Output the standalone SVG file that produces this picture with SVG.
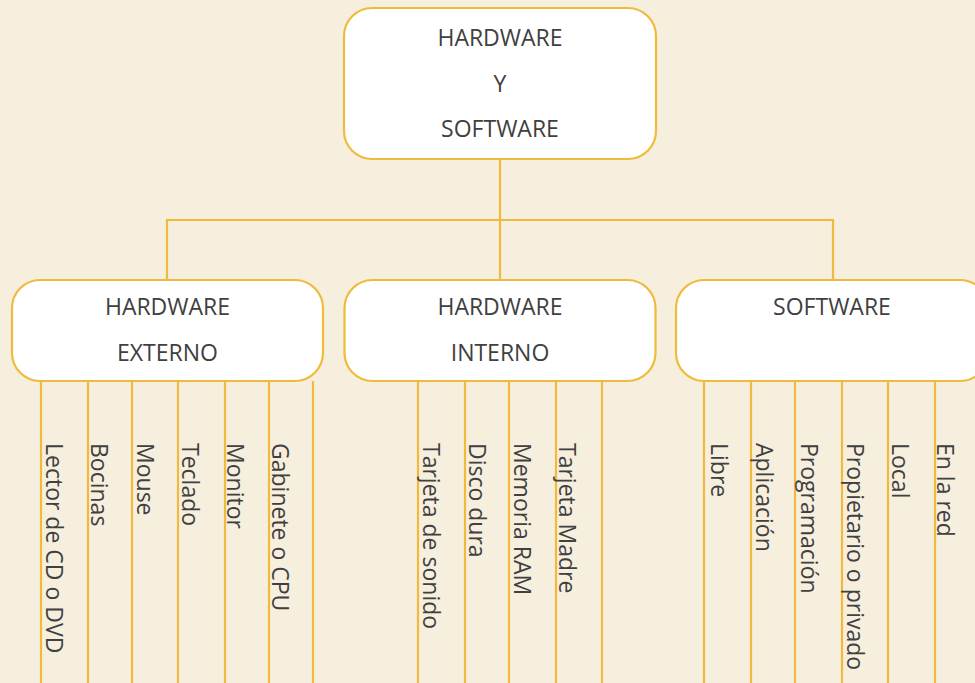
<svg xmlns="http://www.w3.org/2000/svg" width="975" height="683" viewBox="0 0 975 683">
<style>
.box{fill:#ffffff;stroke:#F0BA3C;stroke-width:2.2}
.ln{stroke:#F0BA3C;stroke-width:2.2;fill:none}
.t{font-family:"Open Sans","DejaVu Sans",sans-serif;font-size:23px;fill:#404040}
.c{text-anchor:middle}
</style>
<rect width="975" height="683" fill="#F7EFDE"/>
<g id="connectors">
<path class="ln" d="M500 159V280M167 280V220H833V280"/>
<path class="ln" d="M41 381V683M88 381V683M132 381V683M178 381V683M225 381V683M269 381V683M313 381V683"/>
<path class="ln" d="M418 381V683M465 381V683M509 381V683M556 381V683M602 381V683"/>
<path class="ln" d="M704 381V683M751 381V683M795 381V683M842 381V683M888 381V683M935 381V683"/>
</g>
<g id="root">
<rect class="box" x="344" y="8" width="312" height="151" rx="28"/>
<text class="t c" x="500" y="46">HARDWARE</text>
<text class="t c" x="500" y="92">Y</text>
<text class="t c" x="500" y="137">SOFTWARE</text>
</g>
<g id="hw-externo">
<rect class="box" x="12" y="280" width="311" height="101" rx="28"/>
<text class="t c" x="167.5" y="315">HARDWARE</text>
<text class="t c" x="167.5" y="361">EXTERNO</text>
</g>
<g id="hw-interno">
<rect class="box" x="344.5" y="280" width="311" height="101" rx="28"/>
<text class="t c" x="500" y="315">HARDWARE</text>
<text class="t c" x="500" y="361">INTERNO</text>
</g>
<g id="software">
<rect class="box" x="676" y="280" width="312" height="101" rx="28"/>
<text class="t c" x="832" y="315">SOFTWARE</text>
</g>
<g id="leaves-externo">
<text class="t" transform="translate(46,443) rotate(90)">Lector de CD o DVD</text>
<text class="t" transform="translate(91,443) rotate(90)">Bocinas</text>
<text class="t" transform="translate(137,443) rotate(90)">Mouse</text>
<text class="t" transform="translate(182,443) rotate(90)">Teclado</text>
<text class="t" transform="translate(227,443) rotate(90)">Monitor</text>
<text class="t" transform="translate(272,443) rotate(90)">Gabinete o CPU</text>
</g>
<g id="leaves-interno">
<text class="t" transform="translate(423,443) rotate(90)">Tarjeta de sonido</text>
<text class="t" transform="translate(469,443) rotate(90)">Disco dura</text>
<text class="t" transform="translate(514,443) rotate(90)">Memoria RAM</text>
<text class="t" transform="translate(559,443) rotate(90)">Tarjeta Madre</text>
</g>
<g id="leaves-software">
<text class="t" transform="translate(711,443) rotate(90)">Libre</text>
<text class="t" transform="translate(756,443) rotate(90)">Aplicación</text>
<text class="t" transform="translate(801,443) rotate(90)">Programación</text>
<text class="t" transform="translate(847,443) rotate(90)">Propietario o privado</text>
<text class="t" transform="translate(892,443) rotate(90)">Local</text>
<text class="t" transform="translate(937,443) rotate(90)">En la red</text>
</g>
</svg>
